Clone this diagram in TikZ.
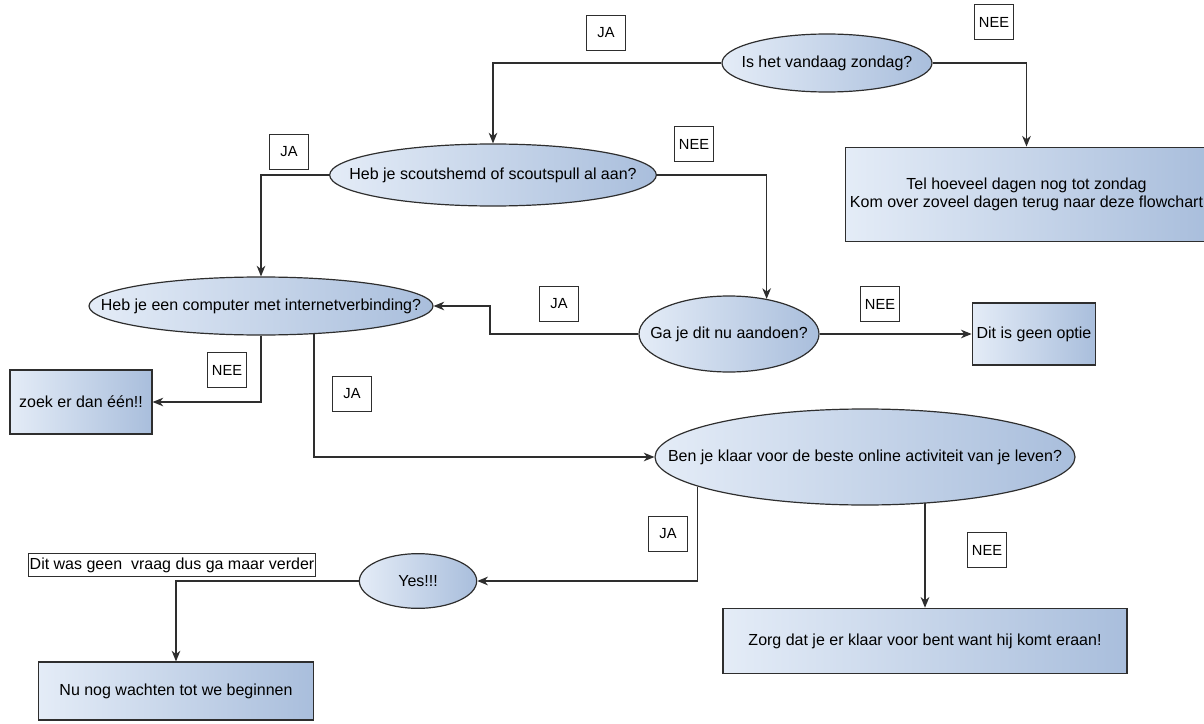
\documentclass[tikz,border=0pt]{standalone}
\usepackage{fontspec}
\setmainfont{Liberation Sans}
\usetikzlibrary{arrows.meta, positioning, shapes.geometric, backgrounds}
\definecolor{flowlight}{HTML}{E4ECF7}
\definecolor{flowdark}{HTML}{A9BEDC}
\definecolor{edgegray}{HTML}{2E2E2E}
\newcommand{\squeeze}[1]{\makebox[0pt]{#1}}

\begin{document}
\begin{tikzpicture}[
    x=0.75pt, y=-0.75pt,
    question/.style={ellipse, draw=edgegray, line width=0.9pt, left color=flowlight, right color=flowdark, inner sep=0pt, font=\fontsize{12}{14}\selectfont},
    action/.style={rectangle, draw=edgegray, line width=0.9pt, left color=flowlight, right color=flowdark, align=center, font=\fontsize{12}{14}\selectfont},
    answer/.style={draw=edgegray, line width=0.6pt, fill=white, inner sep=0pt, minimum width=29pt, minimum height=26pt, font=\fontsize{11}{13}\selectfont},
    arrow/.style={-{Stealth[length=8pt, width=6.5pt, inset=2.5pt]}, line width=0.9pt, edgegray},
]
\useasboundingbox (0,0) rectangle (1204,724);

% Questions
\node[question, minimum width=157.5pt, minimum height=43.5pt] (zondag) at (827,63) {\squeeze{Is het vandaag zondag?}};
\node[question, minimum width=245pt, minimum height=46.5pt] (scouts) at (493,175) {\squeeze{Heb je scoutshemd of scoutspull al aan?}};
\node[question, minimum width=258pt, minimum height=43.5pt] (computer) at (261,306) {\squeeze{Heb je een computer met internetverbinding?}};
\node[question, minimum width=135pt, minimum height=57pt] (aandoen) at (729,334) {\squeeze{Ga je dit nu aandoen?}};
\node[question, minimum width=315pt, minimum height=72pt] (klaar) at (865,457) {\squeeze{Ben je klaar voor de beste online activiteit van je leven?}};
\node[question, minimum width=88pt, minimum height=41pt] (yes) at (418,581) {\squeeze{Yes!!!}};

% Actions
\node[action, minimum width=263pt, minimum height=71pt] (tellen) at (1026.5,194.5) {Tel hoeveel dagen nog tot zondag\\Kom over zoveel dagen terug naar deze flowchart};
\node[action, minimum width=81pt, minimum height=46.5pt] (optie) at (1034,334) {Dit is geen optie};
\node[action, minimum width=106.5pt, minimum height=48pt] (zoek) at (81,402) {zoek er dan één!!};
\node[action, minimum width=303pt, minimum height=49pt] (zorg) at (925,641) {Zorg dat je er klaar voor bent want hij komt eraan!};
\node[action, minimum width=206pt, minimum height=43.5pt] (wachten) at (176,691) {Nu nog wachten tot we beginnen};
\node[draw=edgegray, line width=0.6pt, fill=white, inner sep=1pt, minimum width=213pt, minimum height=17pt, font=\fontsize{12}{14}\selectfont] (verder) at (172,565) {Dit was geen\ \ vraag dus ga maar verder};

% Answers
\node[answer] (ja1) at (606,33) {JA};
\node[answer] (nee1) at (994,22) {NEE};
\node[answer] (ja2) at (289,152) {JA};
\node[answer] (nee2) at (694,144) {NEE};
\node[answer] (ja3) at (559,304) {JA};
\node[answer] (nee3) at (880,304) {NEE};
\node[answer] (nee4) at (227,370) {NEE};
\node[answer] (ja4) at (352,394) {JA};
\node[answer] (ja5) at (668,534) {JA};
\node[answer] (nee5) at (987,550) {NEE};

% Connectors
\coordinate (bend) at (490,320);
\begin{scope}[on background layer]
\draw[arrow] (zondag.west) -| (scouts.north);
\draw[arrow] (zondag.east) -| (tellen.north);
\draw[arrow] (scouts.west) -| (computer.north);
\draw[arrow] (scouts.east) -| (aandoen.43);
\draw[arrow] (aandoen.west) -| (bend) |- (computer.east);
\draw[arrow] (aandoen.east) -- (optie.west);
\draw[arrow] (computer.south) |- (zoek.east);
\draw[arrow] (computer.-28) |- (klaar.west);
\draw[arrow] (klaar.190) |- (yes.east);
\draw[arrow] (zorg.north |- klaar.center) -- (zorg.north);
\draw[arrow] (yes.west) -| (wachten.north);
\end{scope}

\end{tikzpicture}
\end{document}
